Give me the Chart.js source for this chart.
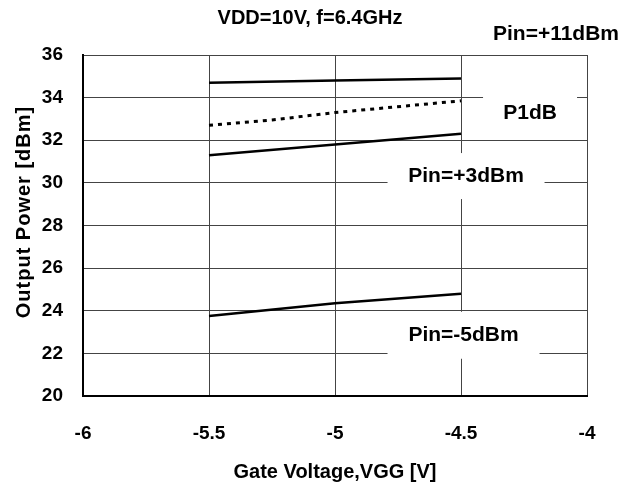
<!DOCTYPE html>
<html>
<head>
<meta charset="utf-8">
<script src="https://cdn.jsdelivr.net/npm/chart.js@4"></script>
<style>
  html, body { margin: 0; padding: 0; background: #fff; }
</style>
</head>
<body>
<canvas id="chart" width="634" height="487"></canvas>
<script>
// gate voltage points (V) and output power (dBm)
const gateVoltage = [-5.5, -5, -4.5];
const p1dbVoltage = [-5.5, -5.25, -5, -4.5];
const pinPlus11 = [34.7, 34.8, 34.9];
const p1db = [32.7, 32.95, 33.3, 33.85];
const pinPlus3 = [31.3, 31.8, 32.3];
const pinMinus5 = [23.75, 24.35, 24.8];

const xTicks = [-6, -5.5, -5, -4.5, -4];
const yTicks = [20, 22, 24, 26, 28, 30, 32, 34, 36];

const chartTitle = "VDD=10V, f=6.4GHz";
const xTitle = "Gate Voltage,VGG [V]";
const yTitle = "Output Power [dBm]";

// in-plot labels, anchored in data coordinates
const labels = [
  { text: "Pin=+11dBm", x: -4.123, y: 36.99, w: 0, h: 0 },
  { text: "P1dB", x: -4.226, y: 33.28, w: 94, h: 34 },
  { text: "Pin=+3dBm", x: -4.48, y: 30.32, w: 157, h: 46 },
  { text: "Pin=-5dBm", x: -4.49, y: 22.85, w: 152, h: 47 }
];

const toPoints = (xs, ys) => xs.map((x, i) => ({ x: x, y: ys[i] }));

const solid = { borderColor: "#000", borderWidth: 2.5, pointRadius: 0, tension: 0, fill: false };
const fontFamily = "'Liberation Sans', Arial, sans-serif";

const labelBoxes = {
  id: "labelBoxes",
  beforeDatasetsDraw(chart) {
    const { ctx, scales: { x, y } } = chart;
    ctx.save();
    ctx.fillStyle = "#fff";
    labels.forEach(l => {
      if (!l.w) return;
      const cx = x.getPixelForValue(l.x), cy = y.getPixelForValue(l.y);
      ctx.fillRect(cx - l.w / 2, cy - l.h / 2, l.w, l.h);
    });
    ctx.restore();
  },
  afterDraw(chart) {
    const { ctx, scales: { x, y } } = chart;
    ctx.save();
    ctx.fillStyle = "#000";
    ctx.textAlign = "center";
    ctx.textBaseline = "middle";
    ctx.font = "bold 21px " + fontFamily;
    labels.forEach(l => {
      ctx.fillText(l.text, x.getPixelForValue(l.x), y.getPixelForValue(l.y));
    });
    ctx.font = "bold 20px " + fontFamily;
    ctx.fillText(chartTitle, 310, 18);
    // y axis title
    ctx.translate(24, 212);
    ctx.rotate(-Math.PI / 2);
    ctx.font = "bold 20px " + fontFamily;
    ctx.letterSpacing = "1px";
    ctx.fillText(yTitle, 0, 0);
    ctx.restore();
  }
};

new Chart(document.getElementById("chart"), {
  type: "line",
  data: {
    datasets: [
      { label: "Pin=+11dBm", data: toPoints(gateVoltage, pinPlus11), ...solid },
      { label: "P1dB", data: toPoints(p1dbVoltage, p1db), ...solid, borderWidth: 3, borderDash: [4, 5] },
      { label: "Pin=+3dBm", data: toPoints(gateVoltage, pinPlus3), ...solid },
      { label: "Pin=-5dBm", data: toPoints(gateVoltage, pinMinus5), ...solid }
    ]
  },
  options: {
    responsive: false,
    animation: false,
    devicePixelRatio: 1,
    layout: { padding: { top: 55, right: 47, left: 0, bottom: 0 } },
    plugins: {
      legend: { display: false },
      tooltip: { enabled: false }
    },
    scales: {
      x: {
        type: "linear",
        min: -6,
        max: -4,
        afterFit: s => { s.height = 91; },
        afterBuildTicks: s => { s.ticks = xTicks.map(v => ({ value: v })); },
        ticks: {
          color: "#000",
          padding: 26,
          font: { family: fontFamily, size: 19, weight: "bold" },
          callback: v => String(v)
        },
        grid: { color: "#444", lineWidth: 1, drawTicks: false },
        border: { color: "#000", width: 2 },
        title: {
          display: true,
          text: xTitle,
          color: "#000",
          padding: { top: 0, bottom: 3 },
          font: { family: fontFamily, size: 20, weight: "bold" }
        }
      },
      y: {
        min: 20,
        max: 36,
        afterFit: s => { s.width = 83; },
        afterBuildTicks: s => { s.ticks = yTicks.map(v => ({ value: v })); },
        ticks: {
          color: "#000",
          padding: 20,
          font: { family: fontFamily, size: 19, weight: "bold" }
        },
        grid: { color: "#444", lineWidth: 1, drawTicks: false },
        border: { color: "#000", width: 2 }
      }
    }
  },
  plugins: [labelBoxes]
});
</script>
</body>
</html>
